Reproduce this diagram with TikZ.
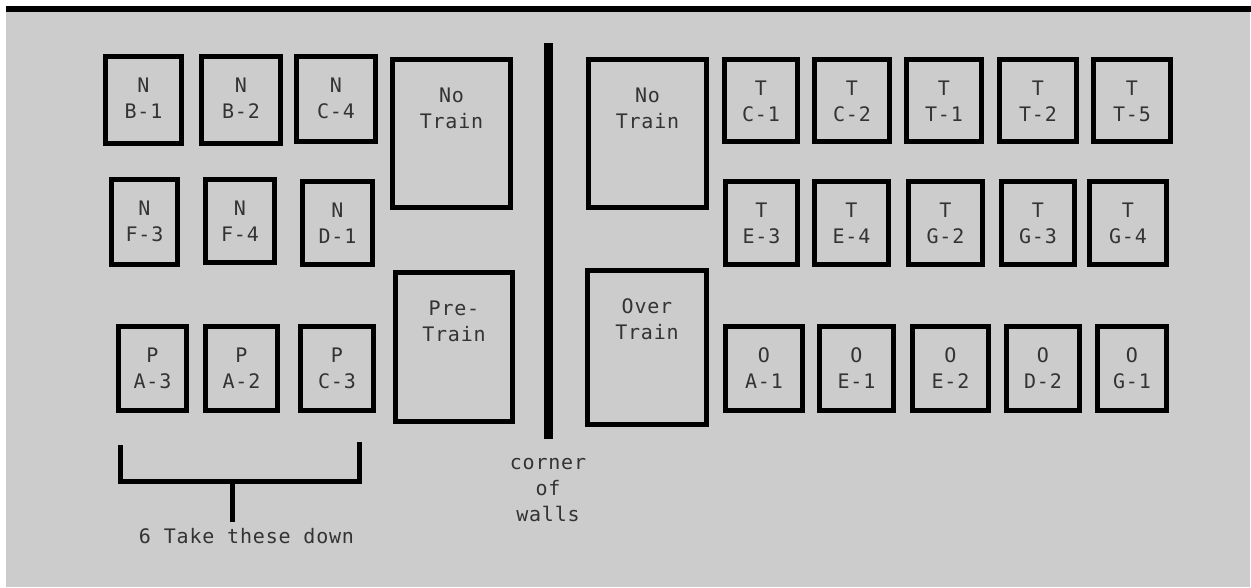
\documentclass[tikz,border=0pt]{standalone}
\usepackage{fontspec}
\setmainfont{DejaVu Sans Mono}[LetterSpace=4]
\definecolor{floor}{HTML}{CCCCCC}
\definecolor{ink}{HTML}{333333}

\begin{document}
\begin{tikzpicture}[x=1pt,y=-1pt,
        font=\fontsize{20}{26}\selectfont,
        box/.style={draw,line width=5pt,outer sep=0pt,inner sep=0pt},
        tag/.style={anchor=north,yshift=-21pt,align=center,inner sep=0pt,text=ink},
        bigtag/.style={tag,yshift=-7pt},
        small/.style={box,label={[tag]north:#1}},
        big/.style={box,label={[bigtag]north:#1},minimum width=118pt,minimum height=148pt},
        bracket/.style={line width=4.5pt},
        wall/.style={line width=9pt}]

    \useasboundingbox (0,0) rectangle (1251,587);
    \fill[floor] (6,12) rectangle (1250,587);
    \draw[line width=6pt] (6,9) -- (1251,9);

    % left side
    \node[small={N\\B-1},minimum width=76pt,minimum height=87pt] (nb1) at (143.5,100) {};
    \node[small={N\\B-2},minimum width=79pt,minimum height=87pt] (nb2) at (241,100) {};
    \node[small={N\\C-4},minimum width=79pt,minimum height=85pt] (nc4) at (336,99) {};
    \node[small={N\\F-3},minimum width=66pt,minimum height=85pt] (nf3) at (144.5,222) {};
    \node[small={N\\F-4},minimum width=69pt,minimum height=83pt] (nf4) at (240,221) {};
    \node[small={N\\D-1},minimum width=70pt,minimum height=83pt] (nd1) at (337.5,223) {};
    \node[small={P\\A-3},minimum width=68pt,minimum height=84pt] (pa3) at (152.5,368.5) {};
    \node[small={P\\A-2},minimum width=72pt,minimum height=84pt] (pa2) at (241.5,368.5) {};
    \node[small={P\\C-3},minimum width=73pt,minimum height=84pt] (pc3) at (337,368.5) {};
    \node[big={No\\Train}] (notrainl) at (451.5,133.5) {};
    \node[big={Pre-\\Train},minimum width=117pt,minimum height=149pt] (pretrain) at (454,347) {};

    % wall
    \coordinate (walltop) at (548.5,43);
    \coordinate (wallend) at (548.5,439);
    \draw[wall] (walltop) -- (wallend);
    \node[anchor=north,align=center,inner sep=0pt,text=ink] (corner) at (548,458.5) {corner\\of\\walls};

    % right side
    \node[big={No\\Train}] (notrainr) at (647.5,133.5) {};
    \node[big={Over\\Train},minimum width=119pt,minimum height=154pt] (overtrain) at (647,347.5) {};
    \node[small={T\\C-1},minimum width=73pt,minimum height=82pt] (tc1) at (761,100.5) {};
    \node[small={T\\C-2},minimum width=75pt,minimum height=82pt] (tc2) at (852,100.5) {};
    \node[small={T\\T-1},minimum width=75pt,minimum height=82pt] (tt1) at (944,100.5) {};
    \node[small={T\\T-2},minimum width=77pt,minimum height=82pt] (tt2) at (1038,100.5) {};
    \node[small={T\\T-5},minimum width=77pt,minimum height=82pt] (tt5) at (1132,100.5) {};
    \node[small={T\\E-3},minimum width=72pt,minimum height=83pt] (te3) at (761.5,223) {};
    \node[small={T\\E-4},minimum width=74pt,minimum height=83pt] (te4) at (851.5,223) {};
    \node[small={T\\G-2},minimum width=74pt,minimum height=83pt] (tg2) at (945.5,223) {};
    \node[small={T\\G-3},minimum width=73pt,minimum height=83pt] (tg3) at (1038,223) {};
    \node[small={T\\G-4},minimum width=77pt,minimum height=83pt] (tg4) at (1128,223) {};
    \node[small={O\\A-1},minimum width=77pt,minimum height=84pt] (oa1) at (764,368.5) {};
    \node[small={O\\E-1},minimum width=74pt,minimum height=84pt] (oe1) at (856.5,368.5) {};
    \node[small={O\\E-2},minimum width=76pt,minimum height=84pt] (oe2) at (950.5,368.5) {};
    \node[small={O\\D-2},minimum width=73pt,minimum height=84pt] (od2) at (1043,368.5) {};
    \node[small={O\\G-1},minimum width=69pt,minimum height=84pt] (og1) at (1132,368.5) {};

    % take down bracket
    \coordinate (bl) at (120.5,445);
    \coordinate (br) at (359.5,442);
    \coordinate (bmid) at (232.5,481.5);
    \node[anchor=base,inner sep=0pt,text=ink] (takedown) at (246.5,543) {6 Take these down};
    \draw[bracket] (bl) |- (bmid) -| (br);
    \draw[bracket] (bmid) -- ++(0,40.5);
\end{tikzpicture}
\end{document}
